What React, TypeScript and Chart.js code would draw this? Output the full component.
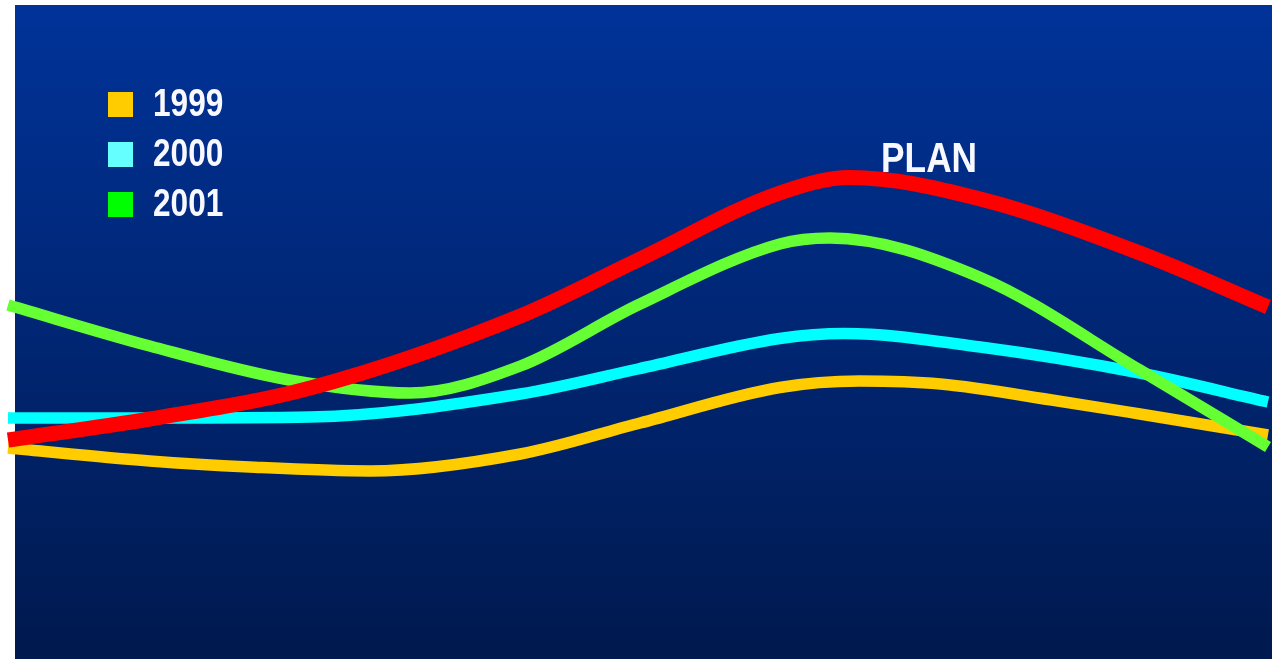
import React, { useEffect, useRef } from "react";
import { Chart, registerables } from "chart.js";

Chart.register(...registerables);

// hidden horizontal scale runs 0..12; each series is sampled at its own positions
const x1999 = [0, 1.35, 2.3, 3.45, 4.88, 6.02, 7.35, 8.11, 8.88, 10.0, 10.78, 12];
const y1999 = [42.0, 39.4, 38.2, 37.4, 40.8, 47.0, 54.1, 55.4, 54.8, 51.4, 48.8, 44.6];

const x2000 = [0, 1.45, 2.88, 4.88, 6.0, 7.35, 7.97, 9.26, 10.78, 12];
const y2000 = [48.0, 48.0, 48.2, 52.8, 57.8, 63.9, 64.9, 62.2, 57.0, 51.2];

const x2001 = [0, 1.35, 2.68, 3.83, 4.88, 6.0, 7.35, 7.83, 9.26, 10.78, 12];
const y2001 = [70.6, 62.4, 55.6, 53.0, 58.4, 70.6, 82.8, 84.0, 76.1, 57.6, 42.2];

const xPlan = [0, 1.35, 2.88, 4.88, 6.0, 7.35, 8.02, 9.26, 10.78, 12];
const yPlan = [43.6, 47.8, 54.0, 68.4, 79.6, 93.0, 96.1, 91.8, 81.0, 70.2];

const legendLabels = ["1999", "2000", "2001"];
const legendColors = ["#FFCC00", "#66FFFF", "#00FF00"];
const planLabel = "PLAN";

const toPoints = (xs: number[], ys: number[]) => xs.map((x, i) => ({ x, y: ys[i] }));

const backgroundPlugin = {
  id: "slideBackground",
  beforeDraw(chart: any) {
    const ctx = chart.ctx;
    ctx.save();
    ctx.fillStyle = "#FFFFFF";
    ctx.fillRect(0, 0, chart.width, chart.height);
    const g = ctx.createLinearGradient(0, 5, 0, chart.height);
    g.addColorStop(0, "rgb(0,51,153)");
    g.addColorStop(1, "rgb(0,25,78)");
    ctx.fillStyle = g;
    ctx.fillRect(15, 5, 1257, chart.height - 5);
    ctx.restore();
  },
};

const overlayPlugin = {
  id: "slideOverlay",
  afterDraw(chart: any) {
    const ctx = chart.ctx;
    ctx.save();
    // legend
    const lx = 108;
    const ly = 92;
    legendLabels.forEach((label, i) => {
      const y = ly + i * 50;
      ctx.fillStyle = legendColors[i];
      ctx.fillRect(lx, y, 25, 25);
      ctx.save();
      ctx.translate(lx + 45, y + 24);
      ctx.scale(0.81, 1);
      ctx.fillStyle = "#F8F8FF";
      ctx.font = "bold 39px 'Liberation Sans', Arial, sans-serif";
      ctx.textBaseline = "alphabetic";
      ctx.fillText(label, 0, 0);
      ctx.restore();
    });
    // PLAN label anchored at the peak of the plan series
    const xs = chart.scales.x;
    const ys = chart.scales.y;
    const peakIdx = yPlan.indexOf(Math.max(...yPlan));
    const px = xs.getPixelForValue(xPlan[peakIdx]) + 31;
    const py = ys.getPixelForValue(yPlan[peakIdx]) - 6;
    ctx.save();
    ctx.translate(px, py);
    ctx.scale(0.82, 1);
    ctx.fillStyle = "#F8F8FF";
    ctx.font = "bold 43px 'Liberation Sans', Arial, sans-serif";
    ctx.textBaseline = "alphabetic";
    ctx.fillText(planLabel, 0, 0);
    ctx.restore();
    ctx.restore();
  },
};

export default function App() {
  const canvasRef = useRef<HTMLCanvasElement | null>(null);

  useEffect(() => {
    if (!canvasRef.current) return;
    const chart = new Chart(canvasRef.current, {
      type: "line",
      data: {
        datasets: [
          { label: "PLAN", data: toPoints(xPlan, yPlan), borderColor: "#FF0000", borderWidth: 15, order: 0 },
          { label: "2001", data: toPoints(x2001, y2001), borderColor: "#66FF33", borderWidth: 11.5, order: 1 },
          { label: "2000", data: toPoints(x2000, y2000), borderColor: "#00FFFF", borderWidth: 11.5, order: 2 },
          { label: "1999", data: toPoints(x1999, y1999), borderColor: "#FFCC00", borderWidth: 11.5, order: 3 },
        ].map((d) => ({
          ...d,
          fill: false,
          cubicInterpolationMode: "monotone" as const,
          pointRadius: 0,
          pointHoverRadius: 0,
          borderCapStyle: "butt" as const,
          clip: false as any,
        })),
      },
      options: {
        animation: false,
        responsive: false,
        parsing: false as any,
        layout: { padding: { left: 8, right: 8, top: 8, bottom: 1 } },
        plugins: { legend: { display: false }, tooltip: { enabled: false } },
        events: [],
        scales: {
          x: { type: "linear", display: false, min: 0, max: 12 },
          y: { type: "linear", display: false, min: 0, max: 130 },
        },
      },
      plugins: [backgroundPlugin, overlayPlugin],
    });
    return () => chart.destroy();
  }, []);

  return (
    <div style={{ position: "fixed", left: 0, top: 0, width: 1276, height: 659, background: "#FFFFFF" }}>
      <canvas ref={canvasRef} width={1276} height={659} style={{ display: "block" }} />
    </div>
  );
}
